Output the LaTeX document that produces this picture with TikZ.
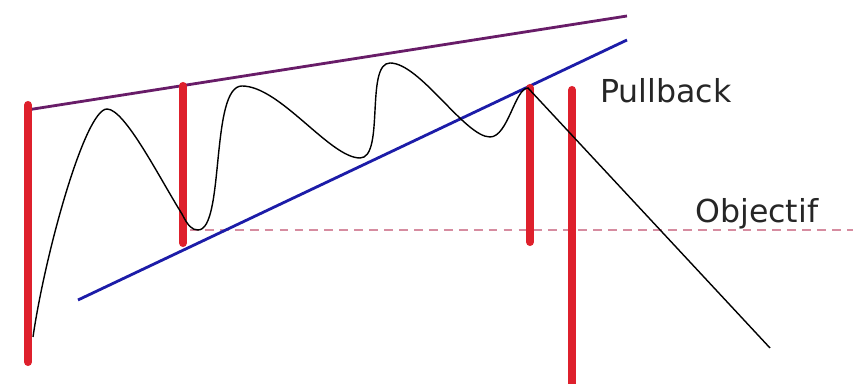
\documentclass[tikz,border=0pt]{standalone}
\usepackage{fontspec}
\setmainfont{DejaVu Sans}
\usepackage{tikz}
\usetikzlibrary{positioning}
\definecolor{BarRed}{RGB}{222,32,44}
\definecolor{TopPurple}{RGB}{104,28,104}
\definecolor{LowBlue}{RGB}{28,28,168}
\definecolor{GoalPink}{RGB}{214,140,160}

\begin{document}
\begin{tikzpicture}[
    x=0.02cm, y=0.02cm,
    bar/.style={BarRed, line width=4.6pt, line cap=round},
    trend/.style={line width=1.6pt},
    price/.style={black, line width=0.8pt},
    goal/.style={GoalPink, line width=0.9pt, dash pattern=on 5pt off 3.5pt},
    lbl/.style={anchor=base west, inner sep=0pt, font=\fontsize{18}{20}\selectfont, text=black!85}
]
\useasboundingbox (0,0) rectangle (853,384);
% target level
\draw[goal] (190,154) -- (853,154);
% wedge lines
\draw[trend, TopPurple] (27,274) -- (627,368);
\draw[trend, LowBlue] (78,84) -- (627,344);
% vertical bars
\draw[bar] (28,22) -- (28,279);
\draw[bar] (183,141) -- (183,298);
\draw[bar] (530,142) -- (530,296);
\draw[bar] (572,0) -- (572,294);
% price curve
\draw[price] (33,47) .. controls (45,130) and (85,275) .. (107,275)
    .. controls (125,275) and (160,205) .. (182,170)
    .. controls (188,158) and (192,154) .. (198,154)
    .. controls (225,154) and (210,298) .. (242,298)
    .. controls (280,298) and (330,226) .. (360,226)
    .. controls (385,226) and (365,321) .. (390,321)
    .. controls (420,321) and (465,247) .. (490,247)
    .. controls (508,247) and (515,296) .. (528,296)
    -- (770,36);
% labels
\node[lbl] (pull) at (600,281) {Pullback};
\node[lbl] (goal) at (695,161) {Objectif};
\end{tikzpicture}
\end{document}
